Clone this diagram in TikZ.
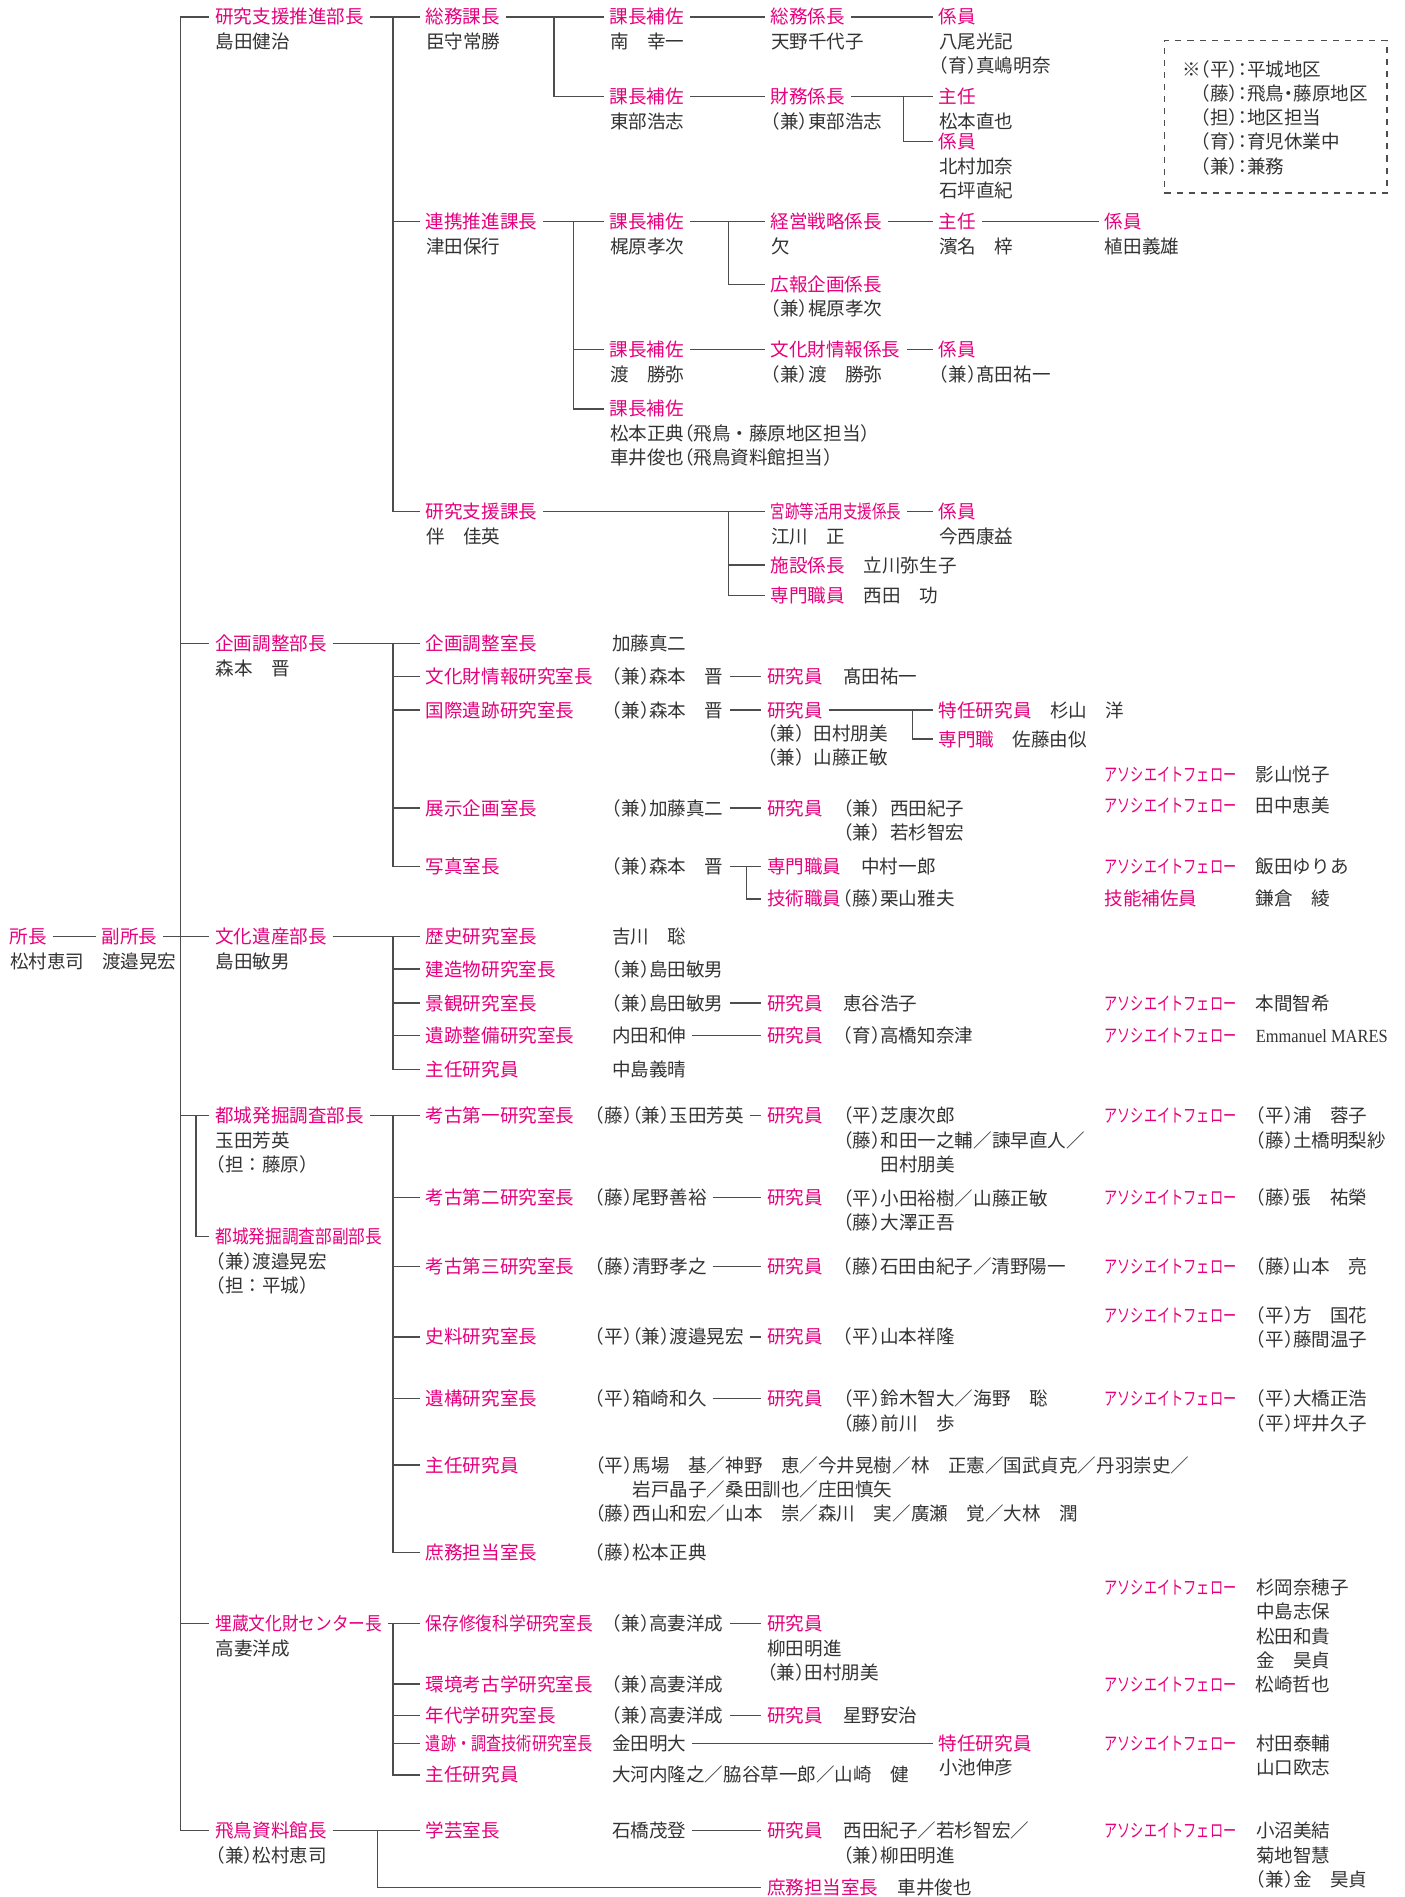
\documentclass[tikz,border=0pt]{standalone}
\usepackage{fontspec}
\usepackage{graphicx}
\setmainfont{Noto Sans CJK JP}
\newfontfamily\latf{Liberation Serif}
\definecolor{pk}{HTML}{E6007E}
\definecolor{nmc}{HTML}{333333}
\definecolor{lnc}{HTML}{4D4D4D}
\newcommand\kk[1]{\makebox[0.5em][r]{（}#1\makebox[0.5em][l]{）}}
\newcommand\cln{\makebox[0.5em]{：}}
\newcommand\sqz[2]{\resizebox{#1pt}{\height}{#2}}
\newcommand\afw{\sqz{65.4}{アソシエイトフェロー}}
\tikzset{
 ttl/.style={anchor=west, inner sep=0pt, outer sep=3pt, text=pk, font=\fontsize{9.2}{12}\selectfont, text height=8.1pt, text depth=1.1pt},
 pnm/.style={anchor=west, inner sep=0pt, outer sep=3pt, text=nmc, font=\fontsize{9.2}{12}\selectfont, text height=8.1pt, text depth=1.1pt},
 nms/.style={anchor=north west, inner sep=0pt, text=nmc, align=left, font=\fontsize{9.2}{12}\selectfont},
 ln/.style={draw=lnc, line width=0.7pt},
}
\newcommand\ttx[4]{\node[ttl] (#1) at (#2-5,#3) {#4};}
\newcommand\pnx[4]{\node[pnm] (#1) at (#2-5,#3) {#4};}
\newcommand\nbx[4]{\node[nms] (#1) at (#2,#3-7.7) {\rule{0pt}{8.1pt}#4};}
\begin{document}
\begin{tikzpicture}[x=0.6pt,y=-0.6pt]
\fill[white] (0,0) rectangle (1161,1568);
\useasboundingbox (0,0) rectangle (1161,1568);
% ---------- level 0
\ttx{r0}{8}{774}{所長} \nbx{r0n}{8}{794}{松村恵司}
\ttx{r1}{84}{774}{副所長} \nbx{r1n}{84}{794}{渡邉晃宏}
% ---------- level 1
\ttx{a1}{178}{14}{研究支援推進部長} \nbx{a1n}{178}{34}{島田健治}
\ttx{a2}{178}{532}{企画調整部長} \nbx{a2n}{178}{552}{森本　晋}
\ttx{a3}{178}{774}{文化遺産部長} \nbx{a3n}{178}{794}{島田敏男}
\ttx{a4}{178}{922}{都城発掘調査部長} \nbx{a4n}{178}{942}{玉田芳英\\\kk{担：藤原}}
\ttx{a5}{178}{1022}{\sqz{82.8}{都城発掘調査部副部長}} \nbx{a5n}{178}{1042}{\kk{兼}渡邉晃宏\\\kk{担：平城}}
\ttx{a6}{178}{1342}{\sqz{82.8}{埋蔵文化財センター長}} \nbx{a6n}{178}{1362}{高妻洋成}
\ttx{a7}{178}{1513}{飛鳥資料館長} \nbx{a7n}{178}{1533}{\kk{兼}松村恵司}
% ---------- section A
\ttx{b1}{352}{14}{総務課長} \nbx{b1n}{352}{34}{臣守常勝}
\ttx{b2}{352}{183}{連携推進課長} \nbx{b2n}{352}{203}{津田保行}
\ttx{b3}{352}{423}{研究支援課長} \nbx{b3n}{352}{443}{伴　佳英}
\ttx{c1}{504}{14}{課長補佐} \nbx{c1n}{504}{34}{南　幸一}
\ttx{c2}{504}{80}{課長補佐} \nbx{c2n}{504}{100}{東部浩志}
\ttx{d1}{637}{14}{総務係長} \nbx{d1n}{637}{34}{天野千代子}
\ttx{e1}{776}{14}{係員} \nbx{e1n}{776}{34}{八尾光記\\\kk{育}真嶋明奈}
\ttx{d2}{637}{80}{財務係長} \nbx{d2n}{637}{100}{\kk{兼}東部浩志}
\ttx{e2}{776}{80}{主任} \nbx{e2n}{776}{100}{松本直也}
\ttx{e3}{776}{117}{係員} \nbx{e3n}{776}{137}{北村加奈\\石坪直紀}
\ttx{c3}{504}{183}{課長補佐} \nbx{c3n}{504}{203}{梶原孝次}
\ttx{d3}{637}{183}{経営戦略係長} \nbx{d3n}{637}{203}{欠}
\ttx{e4}{776}{183}{主任} \nbx{e4n}{776}{203}{濱名　梓}
\ttx{f1}{913}{183}{係員} \nbx{f1n}{913}{203}{植田義雄}
\ttx{d4}{637}{235}{広報企画係長} \nbx{d4n}{637}{255}{\kk{兼}梶原孝次}
\ttx{c4}{504}{289}{課長補佐} \nbx{c4n}{504}{309}{渡　勝弥}
\ttx{d5}{637}{289}{文化財情報係長} \nbx{d5n}{637}{309}{\kk{兼}渡　勝弥}
\ttx{e5}{776}{289}{係員} \nbx{e5n}{776}{309}{\kk{兼}髙田祐一}
\ttx{c5}{504}{338}{課長補佐} \nbx{c5n}{504}{358}{松本正典\kk{飛鳥・藤原地区担当}\\車井俊也\kk{飛鳥資料館担当}}
\ttx{d6}{637}{423}{\sqz{64.8}{宮跡等活用支援係長}} \nbx{d6n}{637}{443}{江川　正}
\ttx{e6}{776}{423}{係員} \nbx{e6n}{776}{443}{今西康益}
\ttx{d7}{637}{467}{施設係長} \pnx{d7n}{714}{467}{立川弥生子}
\ttx{d8}{637}{492}{専門職員} \pnx{d8n}{714}{492}{西田　功}
% legend
\node[draw=lnc, dashed, line width=0.6pt, anchor=north west, inner sep=0pt, minimum width=110.4pt, minimum height=75.6pt] (lg) at (962,33) {};
\nbx{lgt}{977}{57}{※\kk{平}\cln 平城地区\\\hphantom{※}\kk{藤}\cln 飛鳥\makebox[0.5em]{・}藤原地区\\\hphantom{※}\kk{担}\cln 地区担当\\\hphantom{※}\kk{育}\cln 育児休業中\\\hphantom{※}\kk{兼}\cln 兼務}
% ---------- section B
\ttx{g1}{352}{532}{企画調整室長} \pnx{g1p}{506}{532}{加藤真二}
\ttx{g2}{352}{559}{文化財情報研究室長} \pnx{g2p}{506}{559}{\kk{兼}森本　晋} \ttx{g2r}{634}{559}{研究員} \pnx{g2n}{697}{559}{髙田祐一}
\ttx{g3}{352}{587}{国際遺跡研究室長} \pnx{g3p}{506}{587}{\kk{兼}森本　晋} \ttx{g3r}{634}{587}{研究員} \nbx{g3n}{634}{606}{\kk{兼}\hspace{0.5em}田村朋美\\\kk{兼}\hspace{0.5em}山藤正敏}
\ttx{g3s}{776}{587}{特任研究員} \pnx{g3sn}{868}{587}{杉山　洋}
\ttx{g3t}{776}{611}{専門職} \pnx{g3tn}{837}{611}{佐藤由似}
\ttx{g4}{352}{668}{展示企画室長} \pnx{g4p}{506}{668}{\kk{兼}加藤真二} \ttx{g4r}{634}{668}{研究員} \nbx{g4n}{697}{668}{\kk{兼}\hspace{0.5em}西田紀子\\\kk{兼}\hspace{0.5em}若杉智宏}
\ttx{g5}{352}{716}{写真室長} \pnx{g5p}{506}{716}{\kk{兼}森本　晋} \ttx{g5r}{634}{716}{専門職員} \pnx{g5rn}{712}{716}{中村一郎}
\ttx{g5s}{634}{743}{技術職員} \pnx{g5sn}{697}{743}{\kk{藤}栗山雅夫}
\ttx{x1}{913}{640}{\afw} \pnx{x1n}{1038}{640}{影山悦子}
\ttx{x2}{913}{666}{\afw} \pnx{x2n}{1038}{666}{田中恵美}
\ttx{x3}{913}{716}{\afw} \pnx{x3n}{1038}{716}{飯田ゆりあ}
\ttx{x4}{913}{743}{技能補佐員} \pnx{x4n}{1038}{743}{鎌倉　綾}
% ---------- section C
\ttx{h1}{352}{774}{歴史研究室長} \pnx{h1p}{506}{774}{吉川　聡}
\ttx{h2}{352}{801}{建造物研究室長} \pnx{h2p}{506}{801}{\kk{兼}島田敏男}
\ttx{h3}{352}{829}{景観研究室長} \pnx{h3p}{506}{829}{\kk{兼}島田敏男} \ttx{h3r}{634}{829}{研究員} \pnx{h3n}{697}{829}{恵谷浩子}
\ttx{x5}{913}{829}{\afw} \pnx{x5n}{1038}{829}{本間智希}
\ttx{h4}{352}{856}{遺跡整備研究室長} \pnx{h4p}{506}{856}{内田和伸} \ttx{h4r}{634}{856}{研究員} \pnx{h4n}{697}{856}{\kk{育}高橋知奈津}
\ttx{x6}{913}{856}{\afw} \pnx{x6n}{1038}{856}{\latf\sqz{65.4}{Emmanuel MARES}}
\ttx{h5}{352}{884}{主任研究員} \pnx{h5p}{506}{884}{中島義晴}
% ---------- section D
\ttx{i1}{352}{922}{考古第一研究室長} \pnx{i1p}{492}{922}{\kk{藤}\kk{兼}玉田芳英} \ttx{i1r}{634}{922}{研究員} \nbx{i1n}{697}{922}{\kk{平}芝康次郎\\\kk{藤}和田一之輔／諫早直人／\\\hspace{2em}田村朋美}
\ttx{x7}{913}{922}{\afw} \nbx{x7n}{1038}{922}{\kk{平}浦　蓉子\\\kk{藤}土橋明梨紗}
\ttx{i2}{352}{990}{考古第二研究室長} \pnx{i2p}{492}{990}{\kk{藤}尾野善裕} \ttx{i2r}{634}{990}{研究員} \nbx{i2n}{697}{990}{\kk{平}小田裕樹／山藤正敏\\\kk{藤}大澤正吾}
\ttx{x8}{913}{990}{\afw} \pnx{x8n}{1038}{990}{\kk{藤}張　祐榮}
\ttx{i3}{352}{1047}{考古第三研究室長} \pnx{i3p}{492}{1047}{\kk{藤}清野孝之} \ttx{i3r}{634}{1047}{研究員} \pnx{i3n}{697}{1047}{\kk{藤}石田由紀子／清野陽一}
\ttx{x9}{913}{1047}{\afw} \pnx{x9n}{1038}{1047}{\kk{藤}山本　亮}
\ttx{x10}{913}{1087}{\afw} \nbx{x10n}{1038}{1087}{\kk{平}方　国花\\\kk{平}藤間温子}
\ttx{i4}{352}{1105}{史料研究室長} \pnx{i4p}{492}{1105}{\kk{平}\kk{兼}渡邉晃宏} \ttx{i4r}{634}{1105}{研究員} \pnx{i4n}{697}{1105}{\kk{平}山本祥隆}
\ttx{i5}{352}{1156}{遺構研究室長} \pnx{i5p}{492}{1156}{\kk{平}箱崎和久} \ttx{i5r}{634}{1156}{研究員} \nbx{i5n}{697}{1156}{\kk{平}鈴木智大／海野　聡\\\kk{藤}前川　歩}
\ttx{x11}{913}{1156}{\afw} \nbx{x11n}{1038}{1156}{\kk{平}大橋正浩\\\kk{平}坪井久子}
\ttx{i6}{352}{1211}{主任研究員} \nbx{i6n}{492}{1211}{\kk{平}馬場　基／神野　恵／今井晃樹／林　正憲／国武貞克／丹羽崇史／\\\hspace{2em}岩戸晶子／桑田訓也／庄田慎矢\\\kk{藤}西山和宏／山本　崇／森川　実／廣瀬　覚／大林　潤}
\ttx{i7}{352}{1283}{庶務担当室長} \pnx{i7p}{492}{1283}{\kk{藤}松本正典}
% ---------- section E
\ttx{j1}{352}{1342}{\sqz{82.8}{保存修復科学研究室長}} \pnx{j1p}{506}{1342}{\kk{兼}高妻洋成} \ttx{j1r}{634}{1342}{研究員} \nbx{j1n}{634}{1362}{柳田明進\\\kk{兼}田村朋美}
\ttx{j2}{352}{1392}{環境考古学研究室長} \pnx{j2p}{506}{1392}{\kk{兼}高妻洋成}
\ttx{j3}{352}{1418}{年代学研究室長} \pnx{j3p}{506}{1418}{\kk{兼}高妻洋成} \ttx{j3r}{634}{1418}{研究員} \pnx{j3n}{697}{1418}{星野安治}
\ttx{j4}{352}{1441}{\sqz{82.8}{遺跡・調査技術研究室長}} \pnx{j4p}{506}{1441}{金田明大} \ttx{j4s}{776}{1441}{特任研究員} \nbx{j4n}{776}{1461}{小池伸彦}
\ttx{j5}{352}{1467}{主任研究員} \pnx{j5p}{506}{1467}{大河内隆之／脇谷草一郎／山崎　健}
\ttx{x12}{913}{1312}{\afw} \nbx{x12n}{1038}{1312}{杉岡奈穂子\\中島志保\\松田和貴\\金　昊貞}
\ttx{x13}{913}{1392}{\afw} \pnx{x13n}{1038}{1392}{松崎哲也}
\ttx{x14}{913}{1441}{\afw} \nbx{x14n}{1038}{1441}{村田泰輔\\山口欧志}
% ---------- section F
\ttx{k1}{352}{1513}{学芸室長} \pnx{k1p}{506}{1513}{石橋茂登} \ttx{k1r}{634}{1513}{研究員} \nbx{k1n}{697}{1513}{西田紀子／若杉智宏／\\\kk{兼}柳田明進}
\ttx{x15}{913}{1513}{\afw} \nbx{x15n}{1038}{1513}{小沼美結\\菊地智慧\\\kk{兼}金　昊貞}
\ttx{k2}{634}{1560}{庶務担当室長} \pnx{k2n}{742}{1560}{車井俊也}
% ---------- bus coordinates
\coordinate (B0) at (149,0);
\coordinate (B0s) at (162,0);
\coordinate (B1) at (325,0);
\coordinate (B2) at (458,0);
\coordinate (B3) at (747,0);
\coordinate (B4) at (474,0);
\coordinate (B5) at (602,0);
\coordinate (B6) at (754,0);
\coordinate (B7) at (617,0);
\coordinate (B8) at (312,0);
% ---------- connectors
\draw[ln] (r0.east) -- (r1.west);
\draw[ln] (r1.east) -- (a3.west);
\draw[ln] (a1.west -| B0) -- (a7.west -| B0);
\foreach \q in {a1,a2,a4,a6,a7} \draw[ln] (\q.west -| B0) -- (\q.west);
\draw[ln] (a4.west -| B0s) |- (a5.west);
% A
\draw[ln] (a1.east) -- (b1.west);
\draw[ln] (b1.west -| B1) |- (b3.west);
\draw[ln] (b2.west -| B1) -- (b2.west);
\draw[ln] (b1.east) -- (c1.west);
\draw[ln] (c1.west -| B2) |- (c2.west);
\draw[ln] (c1.east) -- (d1.west);
\draw[ln] (d1.east) -- (e1.west);
\draw[ln] (c2.east) -- (d2.west);
\draw[ln] (d2.east) -- (e2.west);
\draw[ln] (e2.west -| B3) |- (e3.west);
\draw[ln] (b2.east) -- (c3.west);
\draw[ln] (c3.west -| B4) |- (c5.west);
\draw[ln] (c4.west -| B4) -- (c4.west);
\draw[ln] (c3.east) -- (d3.west);
\draw[ln] (d3.west -| B5) |- (d4.west);
\draw[ln] (d3.east) -- (e4.west);
\draw[ln] (e4.east) -- (f1.west);
\draw[ln] (c4.east) -- (d5.west);
\draw[ln] (d5.east) -- (e5.west);
\draw[ln] (b3.east) -- (d6.west);
\draw[ln] (d6.west -| B5) |- (d8.west);
\draw[ln] (d7.west -| B5) -- (d7.west);
\draw[ln] (d6.east) -- (e6.west);
% B
\draw[ln] (a2.east) -- (g1.west);
\draw[ln] (g1.west -| B1) |- (g5.west);
\foreach \q in {g2,g3,g4} \draw[ln] (\q.west -| B1) -- (\q.west);
\draw[ln] (g2p.east) -- (g2r.west);
\draw[ln] (g3p.east) -- (g3r.west);
\draw[ln] (g3r.east) -- (g3s.west);
\draw[ln] (g3s.west -| B6) |- (g3t.west);
\draw[ln] (g4p.east) -- (g4r.west);
\draw[ln] (g5p.east) -- (g5r.west);
\draw[ln] (g5r.west -| B7) |- (g5s.west);
% C
\draw[ln] (a3.east) -- (h1.west);
\draw[ln] (h1.west -| B1) |- (h5.west);
\foreach \q in {h2,h3,h4} \draw[ln] (\q.west -| B1) -- (\q.west);
\draw[ln] (h3p.east) -- (h3r.west);
\draw[ln] (h4p.east) -- (h4r.west);
% D
\draw[ln] (a4.east) -- (i1.west);
\draw[ln] (i1.west -| B1) |- (i7.west);
\foreach \q in {i2,i3,i4,i5,i6} \draw[ln] (\q.west -| B1) -- (\q.west);
\foreach \q in {i1,i2,i3,i4,i5} \draw[ln] (\q p.east) -- (\q r.west);
% E
\draw[ln] (a6.east) -- (j1.west);
\draw[ln] (j1.west -| B1) |- (j5.west);
\foreach \q in {j2,j3,j4} \draw[ln] (\q.west -| B1) -- (\q.west);
\draw[ln] (j1p.east) -- (j1r.west);
\draw[ln] (j3p.east) -- (j3r.west);
\draw[ln] (j4p.east) -- (j4s.west);
% F
\draw[ln] (a7.east) -- (k1.west);
\draw[ln] (k1.west -| B8) |- (k2.west);
\draw[ln] (k1p.east) -- (k1r.west);
\end{tikzpicture}
\end{document}
